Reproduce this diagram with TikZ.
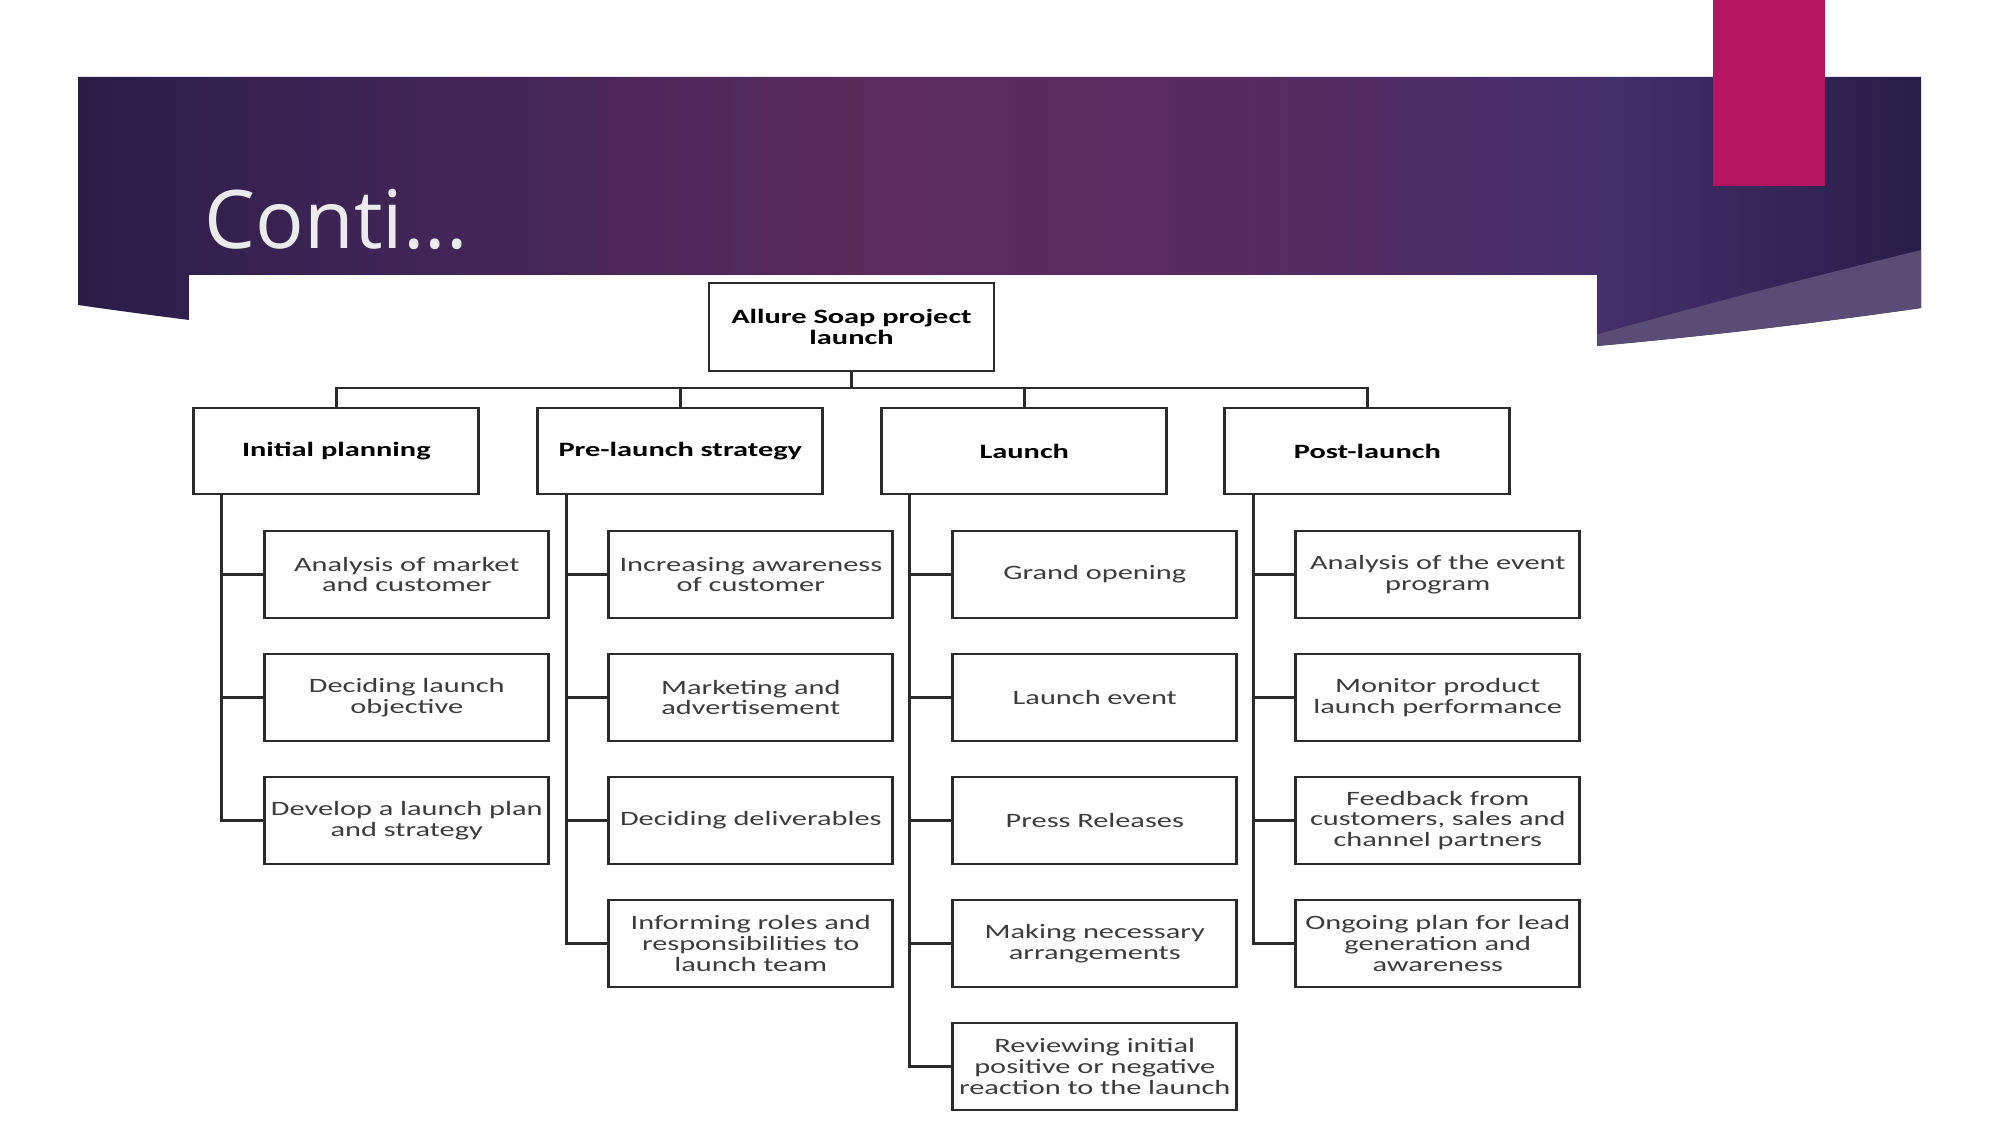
\documentclass[tikz,border=0pt]{standalone}
\usepackage{fontspec}
\usetikzlibrary{positioning}
\setmainfont{Carlito}
\newfontfamily\titlefont{Open Sans}
\newfontfamily\chartfont[FakeStretch=1.49]{Carlito}
\definecolor{bandark}{HTML}{281D48}
\definecolor{bandleft}{HTML}{3B2455}
\definecolor{bandmid}{HTML}{5C2A5E}
\definecolor{bandglow}{HTML}{45306B}
\definecolor{bandwedge}{HTML}{5A4C74}
\definecolor{accent}{HTML}{B41563}
\definecolor{titlegray}{HTML}{EBEBEB}
\definecolor{boxline}{HTML}{2B2B2B}
\definecolor{boxtext}{HTML}{3C3C3C}
\pgfdeclarehorizontalshading{bannershade}{100bp}{color(0bp)=(bandark); color(25bp)=(bandark); color(32bp)=(bandleft); color(47bp)=(bandmid); color(57bp)=(bandmid!80!bandglow); color(66bp)=(bandglow); color(75bp)=(bandark); color(100bp)=(bandark)}
\tikzset{
    rootbox/.style={rectangle,draw=boxline,line width=0.8pt,outer sep=0pt,align=center,font=\chartfont\fontsize{5.8pt}{5.9pt}\selectfont\bfseries,minimum width=28.5mm,minimum height=8.8mm},
    phasebox/.style={rectangle,draw=boxline,line width=0.8pt,outer sep=0pt,align=center,font=\chartfont\fontsize{5.8pt}{5.9pt}\selectfont\bfseries,minimum width=28.5mm,minimum height=8.6mm},
    taskbox/.style={rectangle,draw=boxline,line width=0.8pt,outer sep=0pt,align=center,text width=27.4mm,inner sep=0.5mm,minimum height=8.7mm,text=boxtext,font=\chartfont\fontsize{5.8pt}{5.9pt}\selectfont},
    firsttask/.style={taskbox,below=3.7mm of #1.south west,anchor=north west,xshift=7.1mm},
    treeline/.style={draw=boxline,line width=0.8pt}
}

\begin{document}
\begin{tikzpicture}[x=0.1mm,y=-0.1mm]
    \useasboundingbox (0,0) rectangle (2001,1125);
    % title band
    \shade[shading=bannershade] (78,77) -- (1921,77) -- (1921,308) .. controls (1307,396) and (692,393) .. (78,305) -- cycle;
    \begin{scope}
        \clip (78,77) -- (1921,77) -- (1921,308) .. controls (1307,396) and (692,393) .. (78,305) -- cycle;
        \fill[bandwedge] (1921,250) .. controls (1800,280) and (1680,310) .. (1500,362) -- (1500,420) -- (1921,420) -- cycle;
    \end{scope}
    \fill[white] (189,275) rectangle (1597,1125);
    \fill[accent] (1713,0) rectangle (1825,186);
    \node[anchor=base west,inner sep=0,text=titlegray,font=\titlefont\fontsize{23pt}{27pt}\selectfont] (title) at (204,249) {Conti...};

    % chart
    \node[rootbox] (root) at (851.5,327) {Allure Soap project\\launch};
    \node[phasebox] (ip) at (336.3,451) {Initial planning};
    \node[phasebox,right=5.9mm of ip] (pl) {Pre-launch strategy};
    \node[phasebox,right=5.9mm of pl] (la) {Launch};
    \node[phasebox,right=5.8mm of la] (po) {Post-launch};
    \foreach \p in {ip,pl,la,po}
        \draw[treeline] (root.south) -- ++(0,-1.7mm) -| (\p.north);

    \node[firsttask=ip] (ip1) {Analysis of market\\and customer};
    \node[taskbox,below=3.6mm of ip1] (ip2) {Deciding launch\\objective};
    \node[taskbox,below=3.6mm of ip2] (ip3) {Develop a launch plan\\and strategy};

    \node[firsttask=pl] (pl1) {Increasing awareness\\of customer};
    \node[taskbox,below=3.6mm of pl1] (pl2) {Marketing and\\advertisement};
    \node[taskbox,below=3.6mm of pl2] (pl3) {Deciding deliverables};
    \node[taskbox,below=3.6mm of pl3] (pl4) {Informing roles and\\responsibilities to\\launch team};

    \node[firsttask=la] (la1) {Grand opening};
    \node[taskbox,below=3.6mm of la1] (la2) {Launch event};
    \node[taskbox,below=3.6mm of la2] (la3) {Press Releases};
    \node[taskbox,below=3.6mm of la3] (la4) {Making necessary\\arrangements};
    \node[taskbox,below=3.6mm of la4] (la5) {Reviewing initial\\positive or negative\\reaction to the launch};

    \node[firsttask=po] (po1) {Analysis of the event\\program};
    \node[taskbox,below=3.6mm of po1] (po2) {Monitor product\\launch performance};
    \node[taskbox,below=3.6mm of po2] (po3) {Feedback from\\customers, sales and\\channel partners};
    \node[taskbox,below=3.6mm of po3] (po4) {Ongoing plan for lead\\generation and\\awareness};

    \foreach \c in {ip1,ip2,ip3}
        \draw[treeline] ([xshift=2.8mm]ip.south west) |- (\c.west);
    \foreach \c in {pl1,pl2,pl3,pl4}
        \draw[treeline] ([xshift=2.9mm]pl.south west) |- (\c.west);
    \foreach \c in {la1,la2,la3,la4,la5}
        \draw[treeline] ([xshift=2.8mm]la.south west) |- (\c.west);
    \foreach \c in {po1,po2,po3,po4}
        \draw[treeline] ([xshift=2.9mm]po.south west) |- (\c.west);
\end{tikzpicture}
\end{document}
